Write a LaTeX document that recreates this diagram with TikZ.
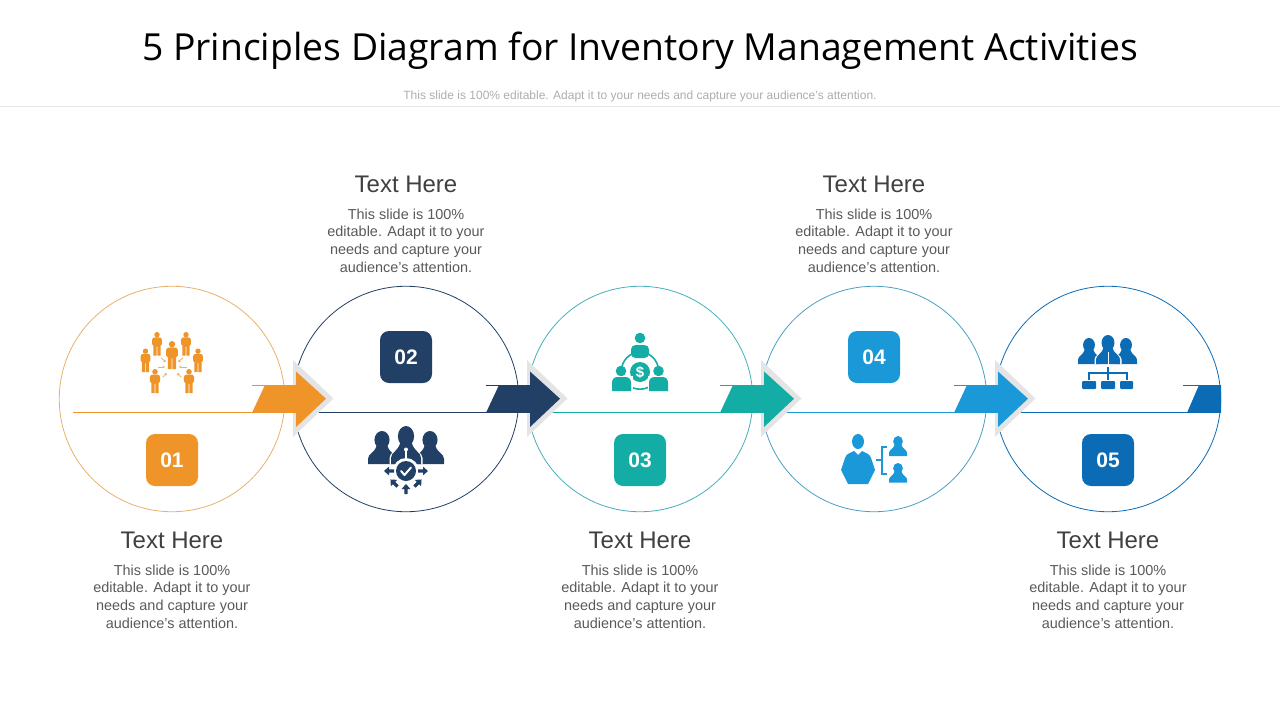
\documentclass[tikz,border=0pt]{standalone}
\usepackage{fontspec}
\setmainfont{Liberation Sans}
\newfontfamily\titlefont{Open Sans}
\usetikzlibrary{arrows.meta}
\definecolor{cA}{HTML}{EE9428}
\definecolor{cB}{HTML}{223F66}
\definecolor{cC}{HTML}{14ADA5}
\definecolor{cD}{HTML}{1A98D8}
\definecolor{cE}{HTML}{0B6CB5}
\definecolor{ringA}{HTML}{E8B06E}
\definecolor{ringC}{HTML}{45AEBB}
\definecolor{ringD}{HTML}{4A9FC4}
\definecolor{greyback}{HTML}{E4E4E4}
\tikzset{
  ring/.style={circle,draw=#1,line width=0.8pt,minimum size=225.5pt,inner sep=0pt},
  flowline/.style={draw=#1,line width=1pt},
  numbox/.style={rectangle,rounded corners=9pt,fill=#1,minimum size=52pt,inner sep=0pt,text=white,font=\fontsize{21}{24}\selectfont\bfseries},
  headtext/.style={text=black!75,font=\fontsize{24}{28}\selectfont,inner sep=0pt},
  bodytext/.style={text=black!65,align=center,font=\fontsize{14.45}{17.7}\selectfont,inner sep=0pt},
  smallarrow/.style={-{Stealth[length=2.6pt,width=2.8pt]},line width=0.8pt,draw=#1!75!white},
}
% #1 cx, #2 top, #3 half width, #4 height, #5 colour
\newcommand\bustfig[5]{%
  \begin{scope}[shift={(#1,#2)},xscale=#3,yscale=#4]
    \fill[#5] (0,.27) ellipse [x radius=.54,y radius=.27];
    \fill[#5] (-1,1) -- (-1,.84) .. controls (-.98,.68) and (-.55,.68) .. (-.38,.44) -- (.38,.44) .. controls (.55,.68) and (.98,.68) .. (1,.84) -- (1,1) -- cycle;
  \end{scope}}
% #1 cx, #2 top, #3 height, #4 colour
\newcommand\manfig[4]{%
  \begin{scope}[shift={(#1,#2)},scale=#3]
    \fill[#4] (0,.115) circle [radius=.115];
    \fill[#4] (-.21,.52) -- (-.21,.32) .. controls (-.21,.24) and (-.14,.23) .. (0,.23) .. controls (.14,.23) and (.21,.24) .. (.21,.32) -- (.21,.52) -- (.15,.58) -- (.15,1) -- (.015,1) -- (.015,.62) -- (-.015,.62) -- (-.015,1) -- (-.15,1) -- (-.15,.58) -- cycle;
  \end{scope}}
\begin{document}
\begin{tikzpicture}[x=1pt,y=-1pt]
\useasboundingbox (0,0) rectangle (1280,720);
\node[font=\titlefont\fontsize{37.3}{44}\selectfont,text=black,inner sep=0pt] (title) at (640,50.5) {5 Principles Diagram for Inventory Management Activities};
\node[font=\fontsize{12}{14}\selectfont,text=black!32,inner sep=0pt] (subtitle) at (640,96.5) {This slide is 100\% editable. Adapt it to your needs and capture your audience's attention.};
\coordinate (ruleL) at (0,106.5);
\coordinate (ruleR) at (1280,106.5);
\draw[black!10,line width=0.8pt] (ruleL) -- (ruleR);

% circles
\node[ring=ringA] (c1) at (172,399) {};
\node[ring=cB] (c2) at (406,399) {};
\node[ring=ringC] (c3) at (640,399) {};
\node[ring=ringD] (c4) at (874,399) {};
\node[ring=cE] (c5) at (1108,399) {};

% flow lines
\foreach \i/\sx/\ex/\col in {1/73/253/cA,2/300/487/cB,3/534/721/cC,4/768/955/cD,5/1002/1188/cE}{
  \coordinate (ls\i) at (\sx,412.5);
  \coordinate (le\i) at (\ex,412.5);
  \draw[flowline=\col] (ls\i) -- (le\i);
}
% arrows
\foreach \i/\dx/\col in {1/0/cA,2/234/cB,3/468/cC,4/702/cD}{
  \begin{scope}[xshift=\dx pt]
    \fill[greyback] (293,360) -- (333.5,398.5) -- (293,437) -- cycle;
    \coordinate (st\i) at (252,385.3);
    \coordinate (sm\i) at (266,385.3);
    \draw[\col,line width=0.8pt] (st\i) -- (sm\i);
    \fill[\col] (252,412.8) -- (265,385) -- (296,385) -- (296,371.5) -- (326,398.7) -- (296,427) -- (296,412.8) -- cycle;
  \end{scope}
}
\coordinate (st5) at (1183,385.3);
\coordinate (sm5) at (1200,385.3);
\draw[cE,line width=0.8pt] (st5) -- (sm5);
\fill[cE] (1187,412.8) -- (1199,385) -- (1221,385) -- (1221,412.8) -- cycle;

% number boxes
\node[numbox=cA] (n1) at (172,460) {\raisebox{-1.5pt}{01}};
\node[numbox=cB] (n2) at (406,357) {\raisebox{-1.5pt}{02}};
\node[numbox=cC] (n3) at (640,460) {\raisebox{-1.5pt}{03}};
\node[numbox=cD] (n4) at (874,357) {\raisebox{-1.5pt}{04}};
\node[numbox=cE] (n5) at (1108,460) {\raisebox{-1.5pt}{05}};

% texts
\foreach \i/\x/\yh/\yb in {1/172/540/596.5,2/406/184/240.5,3/640/540/596.5,4/874/184/240.5,5/1108/540/596.5}{
  \node[headtext] (h\i) at (\x,\yh) {Text Here};
  \node[bodytext] (b\i) at (\x,\yb) {This slide is 100\%\\editable. Adapt it to your\\needs and capture your\\audience's attention.};
}

% icon 1: people
\manfig{172}{341}{28}{cA}
\manfig{157}{332}{23.5}{cA}
\manfig{186}{332}{23.5}{cA}
\manfig{145.5}{348.5}{23.5}{cA}
\manfig{198}{348.5}{23.5}{cA}
\manfig{155}{369}{24}{cA}
\manfig{189}{369}{24}{cA}
\foreach \a/\b/\c/\d in {166/362/161/358,178/362/183/358,165/367/158/367,179/367/187/367,167/373/163/377,177/373/181/377}{
  \draw[smallarrow=cA] (\c,\d) -- (\a,\b);
}

% icon 2: team with check
\bustfig{382}{431}{14}{33}{cB}
\bustfig{430}{431}{14}{33}{cB}
\bustfig{406}{426}{16.5}{38}{white}
\bustfig{406}{426}{15}{38}{cB}
\fill[white] (406,471) circle [radius=13];
\draw[white,line width=1.3pt] (406,450) -- (406,459);
\fill[white] (406,449.5) circle [radius=2];
\fill[cB] (406,471) circle [radius=10];
\draw[white,line width=2pt,line cap=round,line join=round] (401,471) -- (404.5,475) -- (411,467.5);
\foreach \ax/\ay/\ang in {389/471/180,423/471/0,406/489/90,394/483/135,418/483/45}{
  \begin{scope}[shift={(\ax,\ay)},rotate=\ang]
    \fill[cB] (-5,-1.6) -- (0,-1.6) -- (0,-4.4) -- (5,0) -- (0,4.4) -- (0,1.6) -- (-5,1.6) -- cycle;
  \end{scope}
}

% icon 3: money team
\draw[cC,line width=1.6pt] (640,370.7) circle [radius=18.5];
\fill[cC] (640,338) circle [radius=5.3];
\fill[cC,rounded corners=4.5pt] (631,358) -- (631,345) -- (649,345) -- (649,358) -- cycle;
\fill[white] (640,372) circle [radius=12];
\fill[cC] (640,372) circle [radius=10];
\node[text=white,font=\fontsize{15}{15}\selectfont\bfseries,inner sep=0pt] (dollar) at (640,372) {\$};
\fill[cC] (621,371) circle [radius=5.3];
\fill[cC] (658.5,371) circle [radius=5.3];
\fill[white] (610,376) rectangle (632.5,393);
\fill[white] (647.5,376) rectangle (670,393);
\fill[cC] (612,391) -- (612,383) .. controls (612,379) and (614,377) .. (618,377) -- (625,377) .. controls (629,377) and (631,379) .. (631,383) -- (631,391) -- cycle;
\fill[cC] (649,391) -- (649,383) .. controls (649,379) and (651,377) .. (655,377) -- (662,377) .. controls (666,377) and (668,379) .. (668,383) -- (668,391) -- cycle;

% icon 4: hierarchy of people
\fill[cD] (858,441.5) ellipse [x radius=6,y radius=7.5];
\fill[cD] (848,484) -- (841,470) -- (845,458) .. controls (846,454) and (850,453) .. (854,451) -- (858,455) -- (862,451) .. controls (866,453) and (870,454) .. (871,458) -- (875,470) -- (868,484) -- cycle;
\draw[cD,line width=2pt] (887,446.5) -- (882,446.5) -- (882,474) -- (887,474);
\draw[cD,line width=1.8pt] (876,460) -- (882,460);
\bustfig{898}{436}{9}{20}{cD}
\bustfig{898}{463}{9}{19.5}{cD}

% icon 5: org team
\bustfig{1089}{338}{11}{26}{cE}
\bustfig{1126}{338}{11}{26}{cE}
\bustfig{1108}{335}{13.5}{29}{white}
\bustfig{1108}{335}{12}{29}{cE}
\draw[white,line width=1pt] (1108,352) -- (1108,364);
\draw[cE,line width=2pt] (1108,367) -- (1108,380);
\draw[cE,line width=2pt] (1088.5,380) -- (1088.5,373) -- (1127,373) -- (1127,380);
\fill[cE,rounded corners=1pt] (1082,381) rectangle (1096,389);
\fill[cE,rounded corners=1pt] (1101,381) rectangle (1115,389);
\fill[cE,rounded corners=1pt] (1120,381) rectangle (1133,389);
\end{tikzpicture}
\end{document}
